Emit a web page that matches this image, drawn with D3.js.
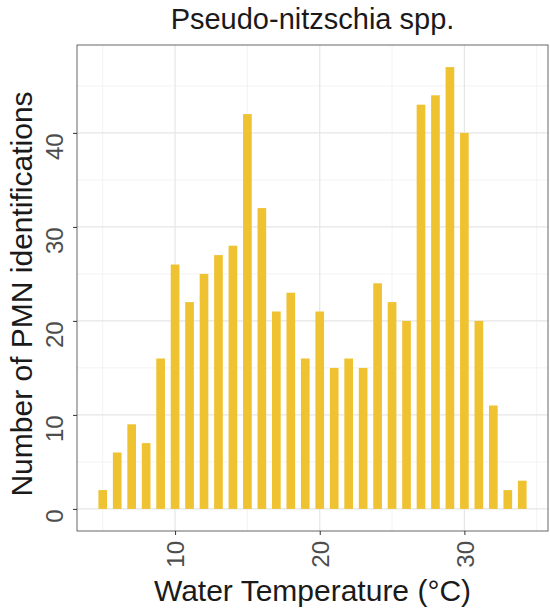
<!DOCTYPE html>
<meta charset="utf-8">
<style>
body { margin: 0; background: #fff; }
text { font-family: "Liberation Sans", Arial, sans-serif; }
.grid-major { stroke: #e6e6e6; stroke-width: 1.2; }
.grid-minor { stroke: #f0f0f0; stroke-width: 0.8; }
</style>
<body>
<svg class="chart"></svg>
<script src="https://cdnjs.cloudflare.com/ajax/libs/d3/7.8.5/d3.min.js"></script>
<script>
// water temperature (°C) and number of PMN identifications
var temps  = [5, 6, 7, 8, 9, 10, 11, 12, 13, 14, 15, 16, 17, 18, 19, 20, 21, 22, 23, 24, 25, 26, 27, 28, 29, 30, 31, 32, 33, 34];
var counts = [2, 6, 9, 7, 16, 26, 22, 25, 27, 28, 42, 32, 21, 23, 16, 21, 15, 16, 15, 24, 22, 20, 43, 44, 47, 40, 20, 11, 2, 3];
var xTicks = [10, 20, 30];
var xMinor = [5, 15, 25, 35];
var yTicks = [0, 10, 20, 30, 40];
var yMinor = [5, 15, 25, 35, 45];

var width = 550, height = 609;
var pLeft = 77, pRight = 548, pTop = 45, pBottom = 531;
var barW = 0.6;

var svg = d3.select('.chart')
  .attr('width', width)
  .attr('height', height);

// ggplot-style 5% expansion around the bars
var xMin = d3.min(temps) - barW / 2, xMax = d3.max(temps) + barW / 2;
var xPad = (xMax - xMin) * 0.05;
var x = d3.scaleLinear().domain([xMin - xPad, xMax + xPad]).range([pLeft, pRight]);

var yMax = d3.max(counts);
var y = d3.scaleLinear().domain([-yMax * 0.05, yMax * 1.05]).range([pBottom, pTop]);

var grid = svg.append('g');
grid.selectAll('.vminor').data(xMinor).enter().append('line')
  .attr('class', 'grid-minor')
  .attr('x1', function (d) { return x(d); }).attr('x2', function (d) { return x(d); })
  .attr('y1', pTop).attr('y2', pBottom);
grid.selectAll('.hminor').data(yMinor).enter().append('line')
  .attr('class', 'grid-minor')
  .attr('y1', function (d) { return y(d); }).attr('y2', function (d) { return y(d); })
  .attr('x1', pLeft).attr('x2', pRight);
grid.selectAll('.vmajor').data(xTicks).enter().append('line')
  .attr('class', 'grid-major')
  .attr('x1', function (d) { return x(d); }).attr('x2', function (d) { return x(d); })
  .attr('y1', pTop).attr('y2', pBottom);
grid.selectAll('.hmajor').data(yTicks).enter().append('line')
  .attr('class', 'grid-major')
  .attr('y1', function (d) { return y(d); }).attr('y2', function (d) { return y(d); })
  .attr('x1', pLeft).attr('x2', pRight);

svg.append('g').selectAll('rect')
  .data(temps)
  .enter().append('rect')
  .attr('x', function (d) { return x(d - barW / 2); })
  .attr('width', function (d) { return x(d + barW / 2) - x(d - barW / 2); })
  .attr('y', function (d, i) { return y(counts[i]); })
  .attr('height', function (d, i) { return y(0) - y(counts[i]); })
  .style('fill', '#efc232');

svg.append('rect')
  .attr('x', pLeft).attr('y', pTop)
  .attr('width', pRight - pLeft).attr('height', pBottom - pTop)
  .style('fill', 'none').style('stroke', '#666').style('stroke-width', 1);

// axes with rotated tick labels
var xAxis = svg.append('g')
  .attr('transform', 'translate(0,' + pBottom + ')')
  .call(d3.axisBottom(x).tickValues(xTicks).tickSize(4).tickPadding(0).tickFormat(d3.format('d')));
xAxis.select('.domain').remove();
xAxis.selectAll('line').style('stroke', '#333');
xAxis.selectAll('text')
  .attr('transform', 'rotate(-90)')
  .attr('x', -10).attr('y', 0).attr('dy', '0.36em')
  .style('text-anchor', 'end')
  .style('font-size', '24px')
  .style('fill', '#4d4d4d');

var yAxis = svg.append('g')
  .attr('transform', 'translate(' + pLeft + ',0)')
  .call(d3.axisLeft(y).tickValues(yTicks).tickSize(4).tickPadding(0).tickFormat(d3.format('d')));
yAxis.select('.domain').remove();
yAxis.selectAll('line').style('stroke', '#333');
yAxis.selectAll('text')
  .attr('transform', 'translate(-14,0) rotate(-90)')
  .attr('x', 0).attr('y', 0).attr('dy', 0)
  .style('text-anchor', 'end')
  .style('font-size', '24px')
  .style('fill', '#4d4d4d');

svg.append('text')
  .attr('x', (pLeft + pRight) / 2).attr('y', 29)
  .attr('text-anchor', 'middle')
  .style('font-size', '29px')
  .style('fill', '#1a1a1a')
  .text('Pseudo-nitzschia spp.');

svg.append('text')
  .attr('x', (pLeft + pRight) / 2).attr('y', 601)
  .attr('text-anchor', 'middle')
  .style('font-size', '30px')
  .style('fill', '#1a1a1a')
  .text('Water Temperature (°C)');

svg.append('text')
  .attr('transform', 'translate(32,' + 294 + ') rotate(-90)')
  .attr('text-anchor', 'middle')
  .style('font-size', '30px')
  .style('fill', '#1a1a1a')
  .text('Number of PMN identifications');
</script>
</body>
